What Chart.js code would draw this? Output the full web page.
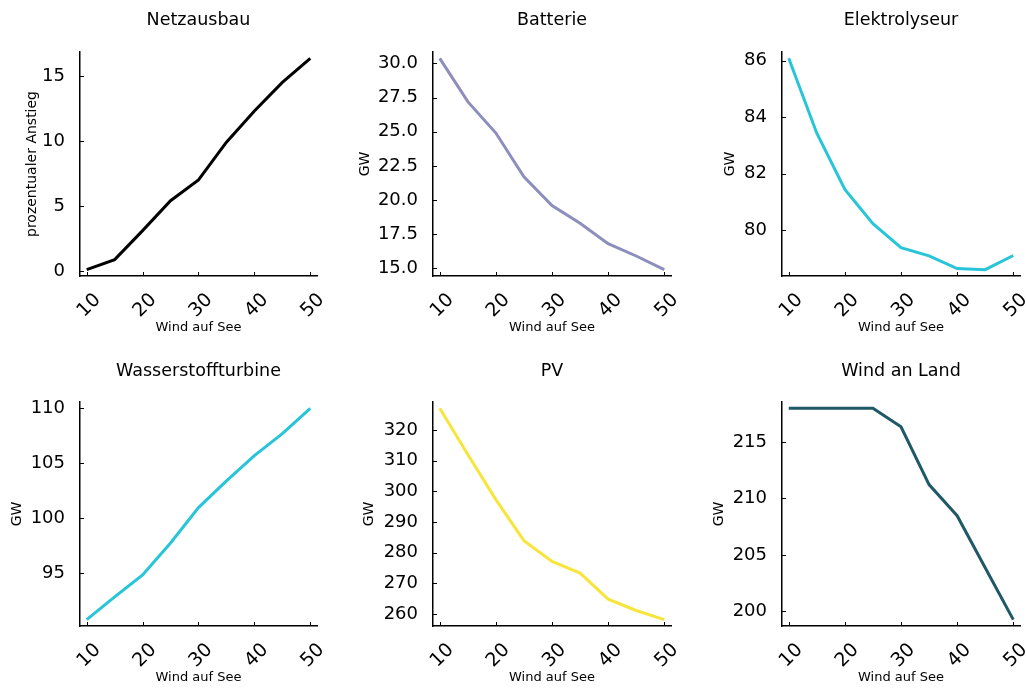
<!DOCTYPE html>
<html>
<head>
<meta charset="utf-8">
<script src="https://cdn.jsdelivr.net/npm/chart.js@4/dist/chart.umd.min.js"></script>
<style>
  html, body { margin: 0; padding: 0; background: #ffffff; }
  body { width: 1026px; height: 688px; position: relative; overflow: hidden; }
  canvas { position: absolute; }
</style>
</head>
<body>
<canvas id="c0"></canvas>
<canvas id="c1"></canvas>
<canvas id="c2"></canvas>
<canvas id="c3"></canvas>
<canvas id="c4"></canvas>
<canvas id="c5"></canvas>
<script>
// ---- data ----
const windAufSee = [10, 15, 20, 25, 30, 35, 40, 45, 50];
const xTickValues = [10, 20, 30, 40, 50];

const netzausbau = [0.1, 0.87, 3.1, 5.4, 7.0, 9.9, 12.3, 14.5, 16.35];
const batterie = [30.37, 27.2, 24.9, 21.7, 19.6, 18.3, 16.8, 15.9, 14.9];
const elektrolyseur = [86.08, 83.43, 81.44, 80.23, 79.38, 79.09, 78.64, 78.6, 79.1];
const wasserstoffturbine = [90.78, 92.85, 94.84, 97.75, 100.97, 103.4, 105.7, 107.7, 110.0];
const pv = [327.1, 312.0, 297.3, 283.9, 277.1, 273.3, 264.8, 261.1, 258.1];
const windAnLand = [217.98, 217.98, 217.98, 217.98, 216.34, 211.23, 208.47, 203.86, 199.26];

const netzTicks = [0, 5, 10, 15];
const batterieTicks = [15, 17.5, 20, 22.5, 25, 27.5, 30];
const elektroTicks = [80, 82, 84, 86];
const wasserTicks = [95, 100, 105, 110];
const pvTicks = [260, 270, 280, 290, 300, 310, 320];
const windLandTicks = [200, 205, 210, 215];

const titles = ['Netzausbau', 'Batterie', 'Elektrolyseur', 'Wasserstoffturbine', 'PV', 'Wind an Land'];
const yLabels = ['prozentualer Anstieg', 'GW', 'GW', 'GW', 'GW', 'GW'];
const xLabel = 'Wind auf See';

// ---- layout / style ----
const FONT = 'DejaVu Sans';
const colLeft = [0, 340, 680], colWidth = [340, 340, 346];
const plotLeft = [80, 93, 102], plotRight = [317, 331, 340];
const rowTop = [0, 340], rowHeight = [340, 348];
const plotTop = [52, 62], plotBottom = [276, 286];
const titleCenter = [20, 31.7], xLabelCenter = [328, 338];

const panels = [
  { data: netzausbau, ticks: netzTicks, color: '#000000', dec: 0, yLabelX: 32 },
  { data: batterie, ticks: batterieTicks, color: '#8e8ebd', dec: 1, yLabelX: 25 },
  { data: elektrolyseur, ticks: elektroTicks, color: '#27c5d7', dec: 0, yLabelX: 50 },
  { data: wasserstoffturbine, ticks: wasserTicks, color: '#27c5d7', dec: 0, yLabelX: 17.7 },
  { data: pv, ticks: pvTicks, color: '#f7e53b', dec: 0, yLabelX: 29 },
  { data: windAnLand, ticks: windLandTicks, color: '#1f5866', dec: 0, yLabelX: 39 }
];

const innerTicks = {
  id: 'innerTicks',
  afterDraw(chart) {
    const { ctx, chartArea, scales } = chart;
    const x = scales.x, y = scales.y;
    ctx.save();
    ctx.strokeStyle = '#000';
    ctx.lineWidth = 1;
    ctx.beginPath();
    x.ticks.forEach((t, i) => {
      const px = Math.round(x.getPixelForTick(i)) + 0.5;
      ctx.moveTo(px, chartArea.bottom);
      ctx.lineTo(px, chartArea.bottom - 4);
    });
    y.ticks.forEach((t, i) => {
      const py = Math.round(y.getPixelForTick(i)) + 0.5;
      ctx.moveTo(chartArea.left, py);
      ctx.lineTo(chartArea.left + 4, py);
    });
    ctx.stroke();
    ctx.restore();
  }
};

panels.forEach((p, idx) => {
  const col = idx % 3, row = Math.floor(idx / 3);
  const cv = document.getElementById('c' + idx);
  cv.width = colWidth[col];
  cv.height = rowHeight[row];
  cv.style.left = colLeft[col] + 'px';
  cv.style.top = rowTop[row] + 'px';
  cv.style.width = colWidth[col] + 'px';
  cv.style.height = rowHeight[row] + 'px';

  const lo = Math.min(...p.data), hi = Math.max(...p.data);
  const pad = (hi - lo) * 0.03;
  const xMin = windAufSee[0], xMax = windAufSee[windAufSee.length - 1];
  const xPad = (xMax - xMin) * 0.03;

  const titleLH = 17.5 * 1.2;
  const yTitleLH = 14 * 1.2;
  const xTitleLH = 13 * 1.2;

  new Chart(cv, {
    type: 'line',
    data: {
      datasets: [{
        data: windAufSee.map((xv, i) => ({ x: xv, y: p.data[i] })),
        borderColor: p.color,
        borderWidth: 3,
        pointRadius: 0,
        tension: 0,
        fill: false
      }]
    },
    options: {
      responsive: false,
      animation: false,
      devicePixelRatio: 1,
      layout: { padding: { left: 0, right: colWidth[col] - plotRight[col], top: 0, bottom: 0 } },
      plugins: {
        legend: { display: false },
        tooltip: { enabled: false },
        title: {
          display: true,
          text: titles[idx],
          fullSize: false,
          color: '#000',
          font: { family: FONT, size: 17.5, weight: 'normal', lineHeight: 1.2 },
          padding: { top: titleCenter[row] - titleLH / 2, bottom: plotTop[row] - titleCenter[row] - titleLH / 2 }
        }
      },
      scales: {
        x: {
          type: 'linear',
          min: xMin - xPad,
          max: xMax + xPad,
          afterBuildTicks: (s) => { s.ticks = xTickValues.map(v => ({ value: v })); },
          afterFit: (s) => {
            s.height = rowHeight[row] - plotBottom[row];
            s.paddingLeft = 0; s.paddingRight = 0;
          },
          grid: { display: true, drawOnChartArea: false, drawTicks: false },
          border: { display: true, color: '#000', width: 1.5 },
          ticks: {
            color: '#000',
            font: { family: FONT, size: 19 },
            minRotation: 45, maxRotation: 45,
            padding: 13,
            labelOffset: 11,
            autoSkip: false,
            callback: (v) => String(v)
          },
          title: {
            display: true,
            text: xLabel,
            color: '#000',
            font: { family: FONT, size: 13, lineHeight: 1.2 },
            padding: { top: 0, bottom: (rowHeight[row] - xLabelCenter[row]) - xTitleLH / 2 }
          }
        },
        y: {
          type: 'linear',
          min: lo - pad,
          max: hi + pad,
          afterBuildTicks: (s) => { s.ticks = p.ticks.map(v => ({ value: v })); },
          afterFit: (s) => {
            s.width = plotLeft[col];
            s.paddingTop = 0; s.paddingBottom = 0;
          },
          grid: { display: true, drawOnChartArea: false, drawTicks: false },
          border: { display: true, color: '#000', width: 1.5 },
          ticks: {
            color: '#000',
            font: { family: FONT, size: 18 },
            padding: 15,
            autoSkip: false,
            callback: (v) => Number(v).toFixed(p.dec)
          },
          title: {
            display: true,
            text: yLabels[idx],
            color: '#000',
            font: { family: FONT, size: 14, lineHeight: 1.2 },
            padding: { top: p.yLabelX - yTitleLH / 2, bottom: 0 }
          }
        }
      }
    },
    plugins: [innerTicks]
  });
});
</script>
</body>
</html>
